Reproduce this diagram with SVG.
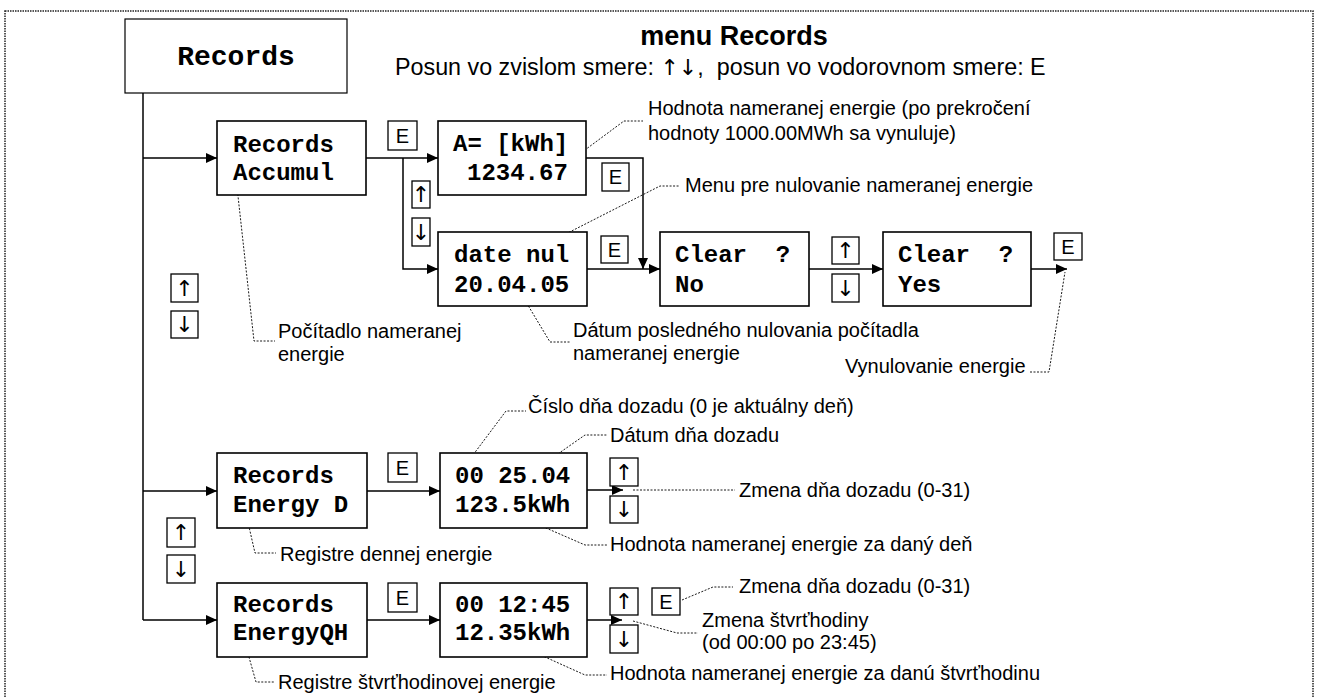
<svg xmlns="http://www.w3.org/2000/svg" width="1319" height="697" viewBox="0 0 1319 697">
<defs>
<marker id="ah" markerUnits="userSpaceOnUse" markerWidth="12" markerHeight="10" refX="11" refY="5" orient="auto">
<path d="M0,0 L11,5 L0,10 Z" fill="#000"/>
</marker>
<style>
.box{fill:#fff;stroke:#000;stroke-width:1.6}
.kbox{fill:#fff;stroke:#000;stroke-width:1.3}
.mono{font-family:"Liberation Mono","Courier New",monospace;font-weight:bold;font-size:24px;fill:#000}
.lbl{font-family:"Liberation Sans",Arial,sans-serif;font-size:20px;fill:#000}
.key{font-family:"Liberation Sans",Arial,sans-serif;font-size:20px;fill:#000;text-anchor:middle}
.arw{font-family:"DejaVu Sans",sans-serif;font-size:22px;fill:#000;text-anchor:middle}
.con{fill:none;stroke:#000;stroke-width:1.5}
.arr{fill:none;stroke:#000;stroke-width:1.5;marker-end:url(#ah)}
.lead{fill:none;stroke:#000;stroke-width:0.9;stroke-dasharray:2 1.5}
</style>
</defs>
<rect x="5" y="11" width="1308" height="700" fill="none" stroke="#222" stroke-width="1.5" stroke-dasharray="1.5 1"/>

<g id="title">
<text x="734" y="45" text-anchor="middle" font-family="Liberation Sans, Arial, sans-serif" font-weight="bold" font-size="27">menu Records</text>
<text x="395" y="75" font-family="Liberation Sans, Arial, sans-serif" font-size="23.3" xml:space="preserve">Posun vo zvislom smere: <tspan font-family="DejaVu Sans, sans-serif" font-size="22">↑↓</tspan>,  posun vo vodorovnom smere: E</text>
</g>

<g id="connectors">
<path class="con" d="M143,93 V620"/>
<path class="arr" d="M143,158 H217"/>
<path class="arr" d="M143,491 H217"/>
<path class="arr" d="M143,620 H217"/>
<path class="arr" d="M366,158 H438"/>
<path class="arr" d="M403,158 V269 H438"/>
<path class="arr" d="M586,158 H643 V269"/>
<path class="arr" d="M587,269 H660"/>
<path class="arr" d="M809,269 H883"/>
<path class="arr" d="M1031,269 H1067"/>
<path class="arr" d="M367,491 H440"/>
<path class="arr" d="M367,620 H440"/>
<path class="arr" d="M587,490 H623"/>
<path class="arr" d="M587,620 H622"/>
</g>

<g id="leaders">
<path class="lead" d="M562,167 L624,121 H643"/>
<path class="lead" d="M550,242 L660,186 H680"/>
<path class="lead" d="M237,187 L254,341 H275"/>
<path class="lead" d="M523,297 L550,342 H570"/>
<path class="lead" d="M1030,372 H1049 L1065,272"/>
<path class="lead" d="M467,463 L506,411 H526"/>
<path class="lead" d="M532,472 L585,435 H607"/>
<path class="lead" d="M633,490 H735"/>
<path class="lead" d="M523,518 L585,545 H607"/>
<path class="lead" d="M247,518 L255,553 H276"/>
<path class="lead" d="M682,600 L713,587 H733"/>
<path class="lead" d="M633,621 L677,633 H698"/>
<path class="lead" d="M525,648 L585,675 H607"/>
<path class="lead" d="M247,650 L256,682 H274"/>
</g>

<g id="node-records">
<rect x="125" y="19" width="222" height="74" fill="#fff" stroke="#000" stroke-width="1.2"/>
<text x="236" y="65" text-anchor="middle" font-family="Liberation Mono, Courier New, monospace" font-weight="bold" font-size="28">Records</text>
</g>

<g id="node-accumul">
<rect class="box" x="217" y="121" width="149" height="74"/>
<text class="mono" x="233" y="152">Records</text>
<text class="mono" x="233" y="180">Accumul</text>
</g>

<g id="node-akwh">
<rect class="box" x="438" y="121" width="148" height="74"/>
<text class="mono" x="453" y="151">A= [kWh]</text>
<text class="mono" x="467" y="180">1234.67</text>
</g>

<g id="node-datenul">
<rect class="box" x="438" y="232" width="149" height="74"/>
<text class="mono" x="454" y="262">date nul</text>
<text class="mono" x="454" y="292">20.04.05</text>
</g>

<g id="node-clearno">
<rect class="box" x="660" y="232" width="149" height="74"/>
<text class="mono" x="675" y="262" xml:space="preserve">Clear  ?</text>
<text class="mono" x="675" y="292">No</text>
</g>

<g id="node-clearyes">
<rect class="box" x="883" y="232" width="148" height="74"/>
<text class="mono" x="898" y="262" xml:space="preserve">Clear  ?</text>
<text class="mono" x="898" y="292">Yes</text>
</g>

<g id="node-energyd">
<rect class="box" x="217" y="453" width="150" height="75"/>
<text class="mono" x="233" y="483">Records</text>
<text class="mono" x="233" y="512">Energy D</text>
</g>

<g id="node-energyd-val">
<rect class="box" x="440" y="453" width="147" height="75"/>
<text class="mono" x="455" y="483">00 25.04</text>
<text class="mono" x="455" y="512">123.5kWh</text>
</g>

<g id="node-energyqh">
<rect class="box" x="217" y="583" width="150" height="74"/>
<text class="mono" x="233" y="612">Records</text>
<text class="mono" x="233" y="640">EnergyQH</text>
</g>

<g id="node-energyqh-val">
<rect class="box" x="440" y="583" width="147" height="74"/>
<text class="mono" x="455" y="612">00 12:45</text>
<text class="mono" x="455" y="640">12.35kWh</text>
</g>

<g id="keys">
<rect class="kbox" x="388" y="121" width="29" height="29"/><text class="key" x="402.5" y="143">E</text>
<rect class="kbox" x="602" y="163" width="27" height="28"/><text class="key" x="615.5" y="184">E</text>
<rect class="kbox" x="601" y="236" width="27" height="27"/><text class="key" x="614.5" y="257">E</text>
<rect class="kbox" x="1054" y="233" width="28" height="27"/><text class="key" x="1068" y="254">E</text>
<rect class="kbox" x="388" y="453" width="29" height="29"/><text class="key" x="402.5" y="475">E</text>
<rect class="kbox" x="388" y="583" width="29" height="29"/><text class="key" x="402.5" y="605">E</text>
<rect class="kbox" x="652" y="588" width="28" height="27"/><text class="key" x="666" y="609">E</text>

<rect class="kbox" x="412" y="181" width="18" height="27"/><text class="arw" x="421" y="202">↑</text>
<rect class="kbox" x="412" y="218" width="18" height="28"/><text class="arw" x="421" y="240">↓</text>

<rect class="kbox" x="832" y="237" width="27" height="27"/><text class="arw" x="845.5" y="258">↑</text>
<rect class="kbox" x="832" y="274" width="27" height="28"/><text class="arw" x="845.5" y="296">↓</text>

<rect class="kbox" x="171" y="274" width="27" height="28"/><text class="arw" x="184.5" y="296">↑</text>
<rect class="kbox" x="171" y="311" width="27" height="27"/><text class="arw" x="184.5" y="332">↓</text>

<rect class="kbox" x="167" y="518" width="28" height="29"/><text class="arw" x="181" y="540">↑</text>
<rect class="kbox" x="167" y="555" width="28" height="28"/><text class="arw" x="181" y="577">↓</text>

<rect class="kbox" x="610" y="458" width="28" height="28"/><text class="arw" x="624" y="480">↑</text>
<rect class="kbox" x="610" y="496" width="28" height="27"/><text class="arw" x="624" y="517">↓</text>

<rect class="kbox" x="610" y="588" width="28" height="27"/><text class="arw" x="624" y="609">↑</text>
<rect class="kbox" x="610" y="625" width="28" height="28"/><text class="arw" x="624" y="647">↓</text>
</g>

<g id="labels">
<text class="lbl" x="648" y="115">Hodnota nameranej energie (po prekročení</text>
<text class="lbl" x="648" y="140">hodnoty 1000.00MWh sa vynuluje)</text>
<text class="lbl" x="685" y="192">Menu pre nulovanie nameranej energie</text>
<text class="lbl" x="278" y="338">Počítadlo nameranej</text>
<text class="lbl" x="278" y="361">energie</text>
<text class="lbl" x="573" y="337">Dátum posledného nulovania počítadla</text>
<text class="lbl" x="573" y="360">nameranej energie</text>
<text class="lbl" x="845" y="373">Vynulovanie energie</text>
<text class="lbl" x="528" y="413">Číslo dňa dozadu (0 je aktuálny deň)</text>
<text class="lbl" x="610" y="442">Dátum dňa dozadu</text>
<text class="lbl" x="739" y="497">Zmena dňa dozadu (0-31)</text>
<text class="lbl" x="610" y="551">Hodnota nameranej energie za daný deň</text>
<text class="lbl" x="280" y="561">Registre dennej energie</text>
<text class="lbl" x="739" y="593">Zmena dňa dozadu (0-31)</text>
<text class="lbl" x="702" y="627">Zmena štvrťhodiny</text>
<text class="lbl" x="702" y="649">(od 00:00 po 23:45)</text>
<text class="lbl" x="610" y="680">Hodnota nameranej energie za danú štvrťhodinu</text>
<text class="lbl" x="278" y="689">Registre štvrťhodinovej energie</text>
</g>
</svg>
